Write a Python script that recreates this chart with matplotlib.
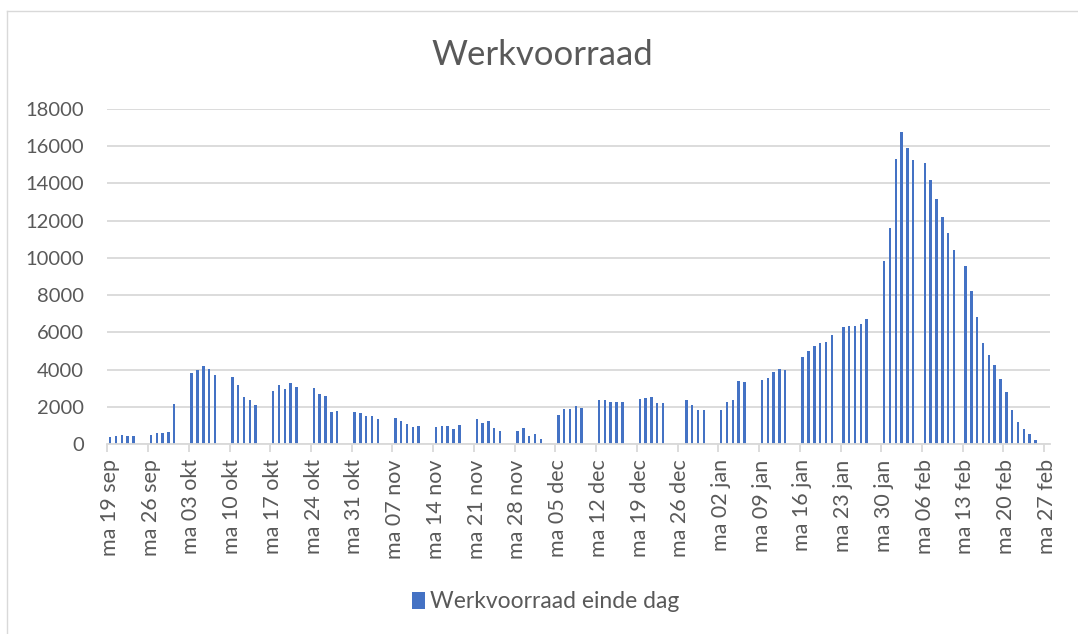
import matplotlib
matplotlib.use("Agg")
import matplotlib.pyplot as plt
import matplotlib.transforms as mtransforms
from matplotlib.patches import Patch
from matplotlib.lines import Line2D
import numpy as np
import pandas as pd

plt.rcParams['font.family'] = ['Lato', 'DejaVu Sans']

# first day of the axis (a monday) and the bars per week
axis_start = "2016-09-19"

# each group: first date, then one value per consecutive day
week_start = [
    "2016-09-19", "2016-09-26", "2016-10-03", "2016-10-10", "2016-10-17",
    "2016-10-24", "2016-10-31", "2016-11-07", "2016-11-14", "2016-11-21",
    "2016-11-28", "2016-12-05", "2016-12-12", "2016-12-19", "2016-12-27",
    "2017-01-02", "2017-01-09", "2017-01-16", "2017-01-23", "2017-01-30",
    "2017-02-06", "2017-02-13",
]
week_values = [
    [350, 450, 470, 450, 450],
    [500, 580, 580, 650, 2150],
    [3800, 3980, 4180, 4020, 3700],
    [3590, 3170, 2520, 2380, 2090],
    [2830, 3170, 2940, 3260, 3080],
    [3030, 2700, 2600, 1730, 1770],
    [1730, 1660, 1480, 1480, 1350],
    [1390, 1240, 1060, 900, 960],
    [900, 960, 990, 810, 1010],
    [1330, 1120, 1230, 850, 720],
    [700, 850, 430, 520, 250],
    [1550, 1870, 1890, 2040, 1960],
    [2360, 2360, 2250, 2250, 2250],
    [2430, 2460, 2520, 2210, 2210],
    [2340, 2110, 1840, 1840],
    [1840, 2250, 2360, 3360, 3320],
    [3460, 3550, 3880, 4040, 3980],
    [4700, 5020, 5290, 5430, 5480, 5880],
    [6300, 6360, 6360, 6430, 6700],
    [9810, 11600, 15340, 16790, 15880, 15250],
    [15090, 14210, 13190, 12210, 11330, 10400],
    [9560, 8230, 6820, 5420, 4780, 4220, 3490, 2790, 1810, 1160, 790, 540, 200],
]

tick_labels = [
    "ma 19 sep", "ma 26 sep", "ma 03 okt", "ma 10 okt", "ma 17 okt",
    "ma 24 okt", "ma 31 okt", "ma 07 nov", "ma 14 nov", "ma 21 nov",
    "ma 28 nov", "ma 05 dec", "ma 12 dec", "ma 19 dec", "ma 26 dec",
    "ma 02 jan", "ma 09 jan", "ma 16 jan", "ma 23 jan", "ma 30 jan",
    "ma 06 feb", "ma 13 feb", "ma 20 feb", "ma 27 feb",
]

blue = '#4472C4'
grey_text = '#595959'
grey_line = '#D9D9D9'

t0 = pd.Timestamp(axis_start)
days = []
vals = []
for start, v in zip(week_start, week_values):
    d0 = (pd.Timestamp(start) - t0).days
    for i, y in enumerate(v):
        days.append(d0 + i)
        vals.append(y)
days = np.array(days)
vals = np.array(vals)

fig = plt.figure(figsize=(10.78, 6.34), dpi=100)
ax = fig.add_axes([107.3 / 1078, 1 - 444 / 634, (1050 - 107.3) / 1078, (444 - 109) / 634])

ax.bar(days + 0.5, vals, width=0.42, color=blue, zorder=3)

ax.set_ylim(0, 18000)
ax.set_yticks(np.arange(0, 18001, 2000))
ax.set_xlim(0, 162)
ax.set_xticks(np.arange(len(tick_labels)) * 7)
ax.set_xticklabels(tick_labels, rotation=90, ha='center', va='top')

ax.grid(axis='y', color=grey_line, lw=1.3, zorder=0)
for s in ['top', 'right', 'left']:
    ax.spines[s].set_visible(False)
ax.spines['bottom'].set_color(grey_line)
ax.spines['bottom'].set_linewidth(1.3)
ax.spines['bottom'].set_zorder(4)

ax.tick_params(axis='y', length=0, pad=17, labelsize=14.5, labelcolor=grey_text)
ax.tick_params(axis='x', length=6, width=1.3, color=grey_line, pad=5,
               labelsize=15.5, labelcolor=grey_text)

# shift x labels a little to the right like the original
offset = mtransforms.ScaledTranslation(2.7 / 100, 0, fig.dpi_scale_trans)
for lab in ax.get_xticklabels():
    lab.set_transform(lab.get_transform() + offset)

fig.text(0.503, 1 - 55 / 634, "Werkvoorraad", ha='center', va='center',
         fontsize=25, color=grey_text)

fig.legend(handles=[Patch(facecolor=blue, edgecolor='none', label="Werkvoorraad einde dag")],
           loc='center', bbox_to_anchor=(546 / 1078, 1 - 602 / 634), frameon=False,
           fontsize=16.5, labelcolor=grey_text, handlelength=0.55, handleheight=0.75,
           handletextpad=0.25)

# chart border
fig.add_artist(Line2D([7 / 1078, 1], [1 - 10.7 / 634, 1 - 10.7 / 634], color=grey_line, lw=1))
fig.add_artist(Line2D([7 / 1078, 7 / 1078], [0, 1 - 10.7 / 634], color=grey_line, lw=1))

fig.savefig("out.png", dpi=100)
